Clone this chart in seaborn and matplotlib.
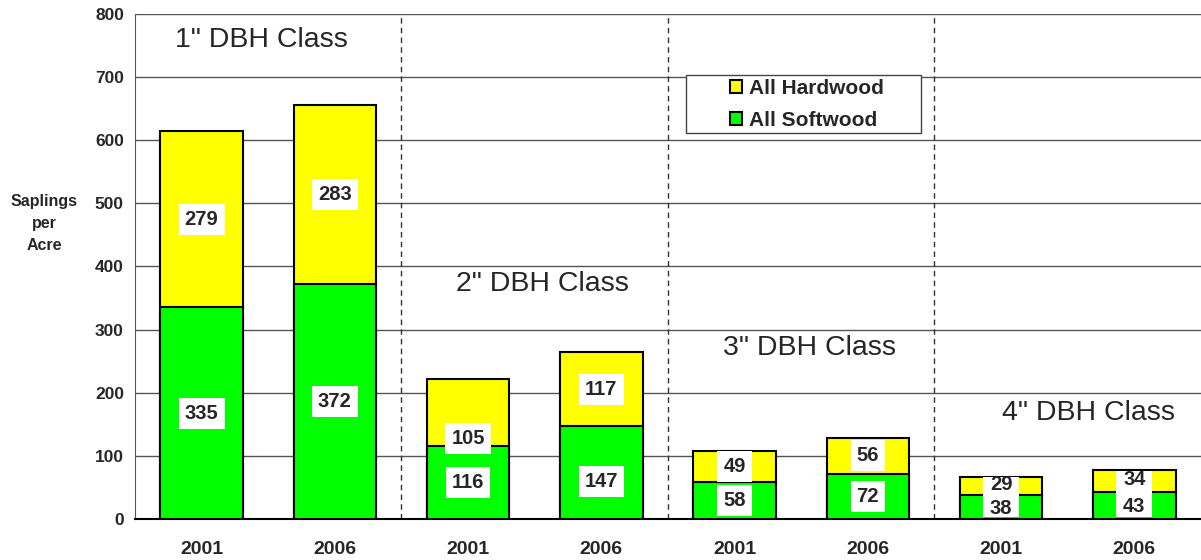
import numpy as np
import pandas as pd
import seaborn as sns
import matplotlib.pyplot as plt
from matplotlib.patches import Rectangle

# data
dbh_classes = ['1" DBH Class', '2" DBH Class', '3" DBH Class', '4" DBH Class']
years = ['2001', '2006']
softwood = [335, 372, 116, 147, 58, 72, 38, 43]
hardwood = [279, 283, 105, 117, 49, 56, 29, 34]
# label heights that are not at the middle of their segment
hardwood_label_y = {2: 127}
softwood_label_y = {3: 60}

df = pd.DataFrame({
    'bar': [f'{c}|{y}' for c in dbh_classes for y in years],
    'year': [y for c in dbh_classes for y in years],
    'softwood': softwood,
    'hardwood': hardwood,
})
df['total'] = df['softwood'] + df['hardwood']
order = list(df['bar'])

sns.set_style('white')
plt.rcParams['font.family'] = ['Liberation Sans', 'DejaVu Sans']

fig = plt.figure(figsize=(12.01, 5.6), dpi=100)
ax = fig.add_axes([0.1124, 0.0732, 0.8876, 0.902])

sns.barplot(data=df, x='bar', y='total', order=order, color='#ffff00',
            edgecolor='black', linewidth=1.5, width=0.62, saturation=1,
            label='All Hardwood', ax=ax, zorder=3)
sns.barplot(data=df, x='bar', y='softwood', order=order, color='#00ff00',
            edgecolor='black', linewidth=1.5, width=0.62, saturation=1,
            label='All Softwood', ax=ax, zorder=3)

# value labels in white boxes
box = dict(boxstyle='square,pad=0.3', facecolor='white', edgecolor='none')
for i, row in df.iterrows():
    ys = softwood_label_y.get(i, row['softwood'] / 2)
    yh = hardwood_label_y.get(i, row['softwood'] + row['hardwood'] / 2)
    small = i >= 6
    if small:
        ys, yh = ys - 2, yh + 2
        # the two small labels share one white box
        ax.add_patch(Rectangle((i - 0.135, 3), 0.27, row['total'] - 4,
                               facecolor='white', edgecolor='none', zorder=4))
    for y, v in ((ys, row['softwood']), (yh, row['hardwood'])):
        ax.text(i, y, str(v), ha='center', va='center', fontsize=14.5,
                fontweight='bold', zorder=5, bbox=None if small else box)

# class titles
class_x = [-0.2, 1.91, 3.91, 6.01]
class_y = [758, 372, 271, 168]
for name, x, y in zip(dbh_classes, class_x, class_y):
    ax.text(x, y, name, ha='left', va='center', fontsize=20.5, zorder=4)

# dashed separators between classes
for b in (1.5, 3.5, 5.5):
    ax.axvline(b, color='#333333', linestyle=(0, (4, 3)), linewidth=1, zorder=2)

ax.set_xlim(-0.5, len(order) - 0.5)
ax.set_ylim(0, 800)
ax.set_yticks(np.arange(0, 801, 100))
ax.yaxis.grid(True, color='#555555', linewidth=1, zorder=0)
ax.set_axisbelow(True)
ax.tick_params(axis='y', length=5, width=1, color='#555555', labelsize=12.5, pad=3)
ax.set_xticks(range(len(order)))
ax.set_xticklabels(df['year'], fontsize=14, fontweight='bold')
ax.set_xticks(np.arange(-0.5, len(order)), minor=True)
ax.tick_params(axis='x', which='major', length=0, pad=16)
ax.tick_params(axis='x', which='minor', length=6, width=1, color='#555555', direction='out')
for lbl in ax.get_yticklabels():
    lbl.set_fontweight('bold')
ax.set_xlabel('')
ax.set_ylabel('Saplings\nper\nAcre', rotation=0, fontsize=11.5, fontweight='bold',
              ha='center', va='center', linespacing=1.55)
ax.yaxis.set_label_coords(-0.085, 0.585)

for s in ('top', 'right'):
    ax.spines[s].set_visible(False)
ax.spines['left'].set_color('#555555')
ax.spines['bottom'].set_color('black')
ax.spines['bottom'].set_linewidth(1.5)

# legend: wide frame drawn separately, entries without their own frame
ax.add_patch(Rectangle((0.517, 0.764), 0.22, 0.115, transform=ax.transAxes,
                       facecolor='white', edgecolor='#444444', linewidth=1,
                       zorder=6))
leg = ax.legend(loc='center left', bbox_to_anchor=(0.558, 0.821),
                prop={'weight': 'bold', 'size': 15}, frameon=False,
                handlelength=0.6, handleheight=0.6, handletextpad=0.3,
                borderpad=0, labelspacing=0.6, borderaxespad=0)
leg.set_zorder(7)

fig.savefig('out.png', dpi=100)
